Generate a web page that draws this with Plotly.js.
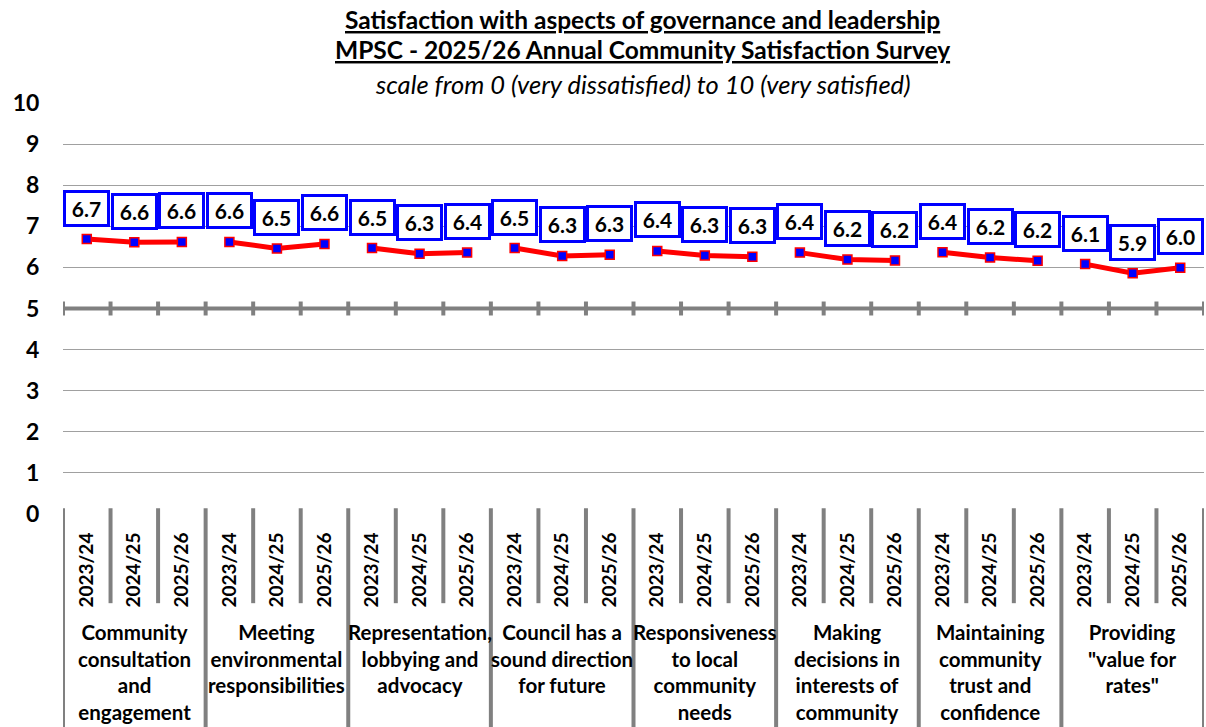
<!DOCTYPE html>
<html><head><meta charset="utf-8">
<script src="https://cdn.plot.ly/plotly-3.0.1.min.js"></script>
<style>html,body{margin:0;padding:0;background:#fff}#chart{width:1206px;height:727px}</style>
</head><body><div id="chart"></div>
<script>
// ---- data ----
const groups = [
  "Community<br>consultation<br>and<br>engagement",
  "Meeting<br>environmental<br>responsibilities",
  "Representation,<br>lobbying and<br>advocacy",
  "Council has a<br>sound direction<br>for future",
  "Responsiveness<br>to local<br>community<br>needs",
  "Making<br>decisions in<br>interests of<br>community",
  "Maintaining<br>community<br>trust and<br>confidence",
  "Providing<br>\"value for<br>rates\""
];
const years = ["2023/24", "2024/25", "2025/26"];
const v2324 = [6.69, 6.62, 6.47, 6.47, 6.40, 6.36, 6.37, 6.08];
const v2425 = [6.61, 6.46, 6.33, 6.28, 6.29, 6.19, 6.24, 5.86];
const v2526 = [6.62, 6.57, 6.36, 6.31, 6.26, 6.17, 6.16, 5.99];
const titleLines = [
  "Satisfaction with aspects of governance and leadership",
  "MPSC - 2025/26 Annual Community Satisfaction Survey",
  "scale from 0 (very dissatisfied) to 10 (very satisfied)"
];
const yTicks = [0,1,2,3,4,5,6,7,8,9,10];

// ---- build ----
const series = [v2324, v2425, v2526];
const nY = years.length;
const FONT = "Lato, 'Open Sans', sans-serif";
const GREY = "#808080";

const traces = [];
const annotations = [];
groups.forEach((g, gi) => {
  const xs = years.map((_, k) => gi * nY + k);
  const ys = series.map(s => s[gi]);
  traces.push({
    type: "scatter", mode: "lines+markers",
    x: xs, y: ys,
    line: {color: "#ff0000", width: 5},
    marker: {symbol: "square", size: 9, color: "#0000ff", line: {color: "#ff0000", width: 1.5}},
    hoverinfo: "skip", showlegend: false
  });
  xs.forEach((x, k) => {
    annotations.push({
      x: x, y: ys[k], xref: "x", yref: "y",
      text: ys[k].toFixed(1), showarrow: false, yshift: 31,
      font: {family: FONT, size: 21, color: "#000", weight: 700},
      bgcolor: "#ffffff", bordercolor: "#0000ff", borderwidth: 3, borderpad: 1,
      width: 39, height: 29
    });
  });
  annotations.push({
    x: gi * nY + (nY - 1) / 2, y: -0.254, xref: "x", yref: "paper",
    yanchor: "top", xanchor: "center", showarrow: false,
    text: g, align: "center",
    font: {family: FONT, size: 20.5, color: "#000", weight: 700}
  });
});

// titles
const titleY = [1.204, 1.131, 1.046];
const titleSize = [24.5, 24.5, 25.5];
titleLines.forEach((t, i) => {
  annotations.push({
    x: 0.508, y: titleY[i], xref: "paper", yref: "paper",
    xanchor: "center", yanchor: "middle", showarrow: false,
    text: i < 2 ? "<u>" + t + "</u>" : "<i>" + t + "</i>",
    font: {family: FONT, size: titleSize[i], color: "#000", weight: i < 2 ? 700 : 400}
  });
});

// dividers & axis-at-5 line
const nPts = groups.length * nY;
const shapes = [];
for (let b = 0; b <= nPts; b++) {
  const isGroup = b % nY === 0;
  shapes.push({
    type: "line", xref: "x", yref: "paper",
    x0: b - 0.5, x1: b - 0.5, y0: 0.014, y1: isGroup ? -0.53 : -0.217,
    line: {color: GREY, width: 4}
  });
  shapes.push({
    type: "line", xref: "x", yref: "y",
    x0: b - 0.5, x1: b - 0.5, y0: 4.83, y1: 5.17,
    line: {color: GREY, width: 4}
  });
}
shapes.push({
  type: "line", xref: "paper", yref: "y",
  x0: 0, x1: 1, y0: 5, y1: 5,
  line: {color: GREY, width: 4}
});

const tickvals = [];
const ticktext = [];
groups.forEach((g, gi) => years.forEach((yr, k) => { tickvals.push(gi * nY + k); ticktext.push(yr); }));

const layout = {
  width: 1206, height: 727,
  margin: {l: 63, r: 2, t: 103, b: 213},
  paper_bgcolor: "#ffffff", plot_bgcolor: "#ffffff",
  showlegend: false, hovermode: false,
  xaxis: {
    range: [-0.5, nPts - 0.5], tickmode: "array", tickvals: tickvals, ticktext: ticktext,
    tickangle: -90, showgrid: false, zeroline: false, showline: false,
    ticks: "outside", ticklen: 10, tickcolor: "rgba(0,0,0,0)",
    tickfont: {family: FONT, size: 19, color: "#000", weight: 700}
  },
  yaxis: {
    range: [0, 10], tickmode: "array", tickvals: yTicks,
    showgrid: true, gridcolor: "#a0a0a0", gridwidth: 1, zeroline: false, showline: false,
    ticks: "outside", ticklen: 18, tickcolor: "rgba(0,0,0,0)",
    tickfont: {family: FONT, size: 23, color: "#000", weight: 700}
  },
  annotations: annotations,
  shapes: shapes
};

Plotly.newPlot("chart", traces, layout, {displayModeBar: false, staticPlot: true});
</script>
</body></html>
